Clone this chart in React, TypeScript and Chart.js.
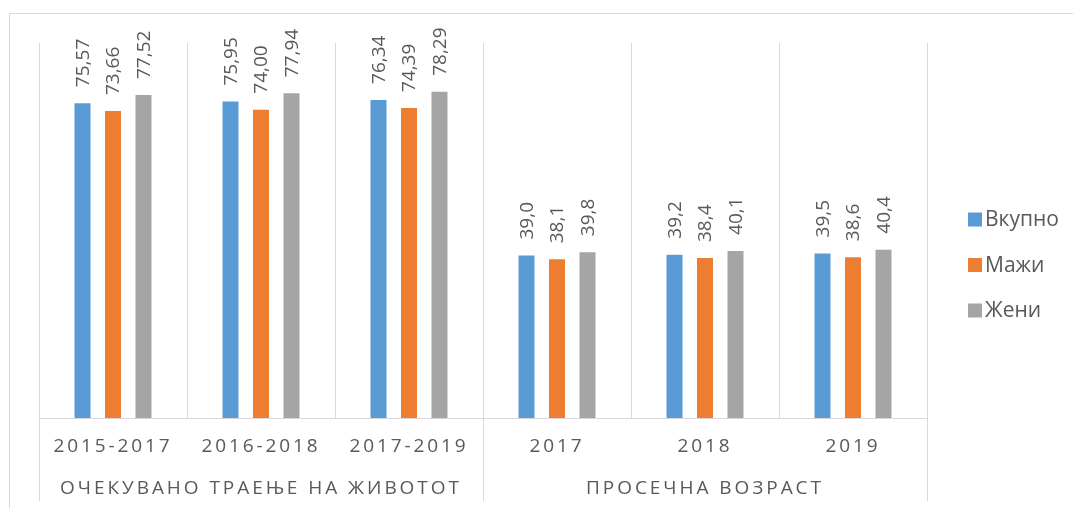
import React, { useEffect, useRef } from 'react';
import { Chart, registerables } from 'chart.js';

Chart.register(...registerables);

const categories = ['2015-2017', '2016-2018', '2017-2019', '2017', '2018', '2019'];
const groupLabels = ['ОЧЕКУВАНО ТРАЕЊЕ НА ЖИВОТОТ', 'ПРОСЕЧНА ВОЗРАСТ'];
const groupSizes = [3, 3];
const seriesNames = ['Вкупно', 'Мажи', 'Жени'];
const vkupno = [75.57, 75.95, 76.34, 39.0, 39.2, 39.5];
const mazhi = [73.66, 74.0, 74.39, 38.1, 38.4, 38.6];
const zheni = [77.52, 77.94, 78.29, 39.8, 40.1, 40.4];
const labelDecimals = [2, 2, 2, 1, 1, 1];
const seriesColors = ['#5B9BD5', '#ED7D31', '#A5A5A5'];
const yMax = 90;

const TEXT = '#595959';
const GRID = '#D9D9D9';
const FONT_FAMILY = '"Open Sans", "DejaVu Sans", sans-serif';
const FONT_SIZE = 19;
const LEGEND_FONT_SIZE = 21;

const align = (p: number) => Math.round(p - 0.5) + 0.5;

function spacedText(ctx: CanvasRenderingContext2D, text: string, cx: number, cy: number, ls: number) {
  const chars = Array.from(text);
  const widths = chars.map((c) => ctx.measureText(c).width);
  const total = widths.reduce((a, b) => a + b, 0) + ls * chars.length;
  let x = cx - total / 2;
  ctx.textAlign = 'left';
  chars.forEach((c, i) => {
    ctx.fillText(c, x, cy);
    x += widths[i] + ls;
  });
}

const decorPlugin = {
  id: 'excelDecor',
  beforeDraw(chart: any) {
    const ctx: CanvasRenderingContext2D = chart.ctx;
    ctx.save();
    ctx.fillStyle = '#ffffff';
    ctx.fillRect(0, 0, chart.width, chart.height);
    ctx.strokeStyle = GRID;
    ctx.lineWidth = 1;
    ctx.strokeRect(9.5, 13.5, chart.width + 20, chart.height + 20);
    ctx.restore();
  },
  afterDatasetsDraw(chart: any) {
    const ctx: CanvasRenderingContext2D = chart.ctx;
    ctx.save();
    ctx.fillStyle = TEXT;
    ctx.font = `${FONT_SIZE}px ${FONT_FAMILY}`;
    chart.data.datasets.forEach((ds: any, i: number) => {
      const meta = chart.getDatasetMeta(i);
      meta.data.forEach((el: any, j: number) => {
        const label = Number(ds.data[j]).toFixed(labelDecimals[j]).replace('.', ',');
        ctx.save();
        ctx.translate(el.x + 1, el.y - 16);
        ctx.rotate(-Math.PI / 2);
        ctx.textAlign = 'left';
        ctx.textBaseline = 'middle';
        ctx.fillText(label, 0, 0);
        ctx.restore();
      });
    });
    ctx.restore();
  },
  afterDraw(chart: any) {
    const ctx: CanvasRenderingContext2D = chart.ctx;
    const xs = chart.scales.x;
    const area = chart.chartArea;
    ctx.save();
    ctx.strokeStyle = GRID;
    ctx.lineWidth = 1;
    const boundaryPx = (b: number) => {
      if (b <= 0) return area.left;
      if (b >= categories.length) return area.right;
      return (xs.getPixelForValue(b - 1) + xs.getPixelForValue(b)) / 2;
    };
    const bounds = [0];
    let acc = 0;
    groupSizes.forEach((s) => {
      acc += s;
      bounds.push(acc);
    });
    bounds.forEach((b) => {
      const x = align(boundaryPx(b));
      ctx.beginPath();
      ctx.moveTo(x, area.bottom);
      ctx.lineTo(x, 501);
      ctx.stroke();
    });
    ctx.fillStyle = TEXT;
    ctx.font = `${FONT_SIZE}px ${FONT_FAMILY}`;
    ctx.textBaseline = 'middle';
    categories.forEach((c, i) => {
      spacedText(ctx, c, xs.getPixelForValue(i), 447, 2.9);
    });
    groupLabels.forEach((g, gi) => {
      const cx = (boundaryPx(bounds[gi]) + boundaryPx(bounds[gi + 1])) / 2;
      spacedText(ctx, g, cx, 489, 2.95);
    });
    ctx.font = `${LEGEND_FONT_SIZE}px ${FONT_FAMILY}`;
    chart.data.datasets.forEach((ds: any, i: number) => {
      const cy = 219.5 + i * 45.5;
      ctx.fillStyle = ds.backgroundColor;
      ctx.fillRect(968, cy - 7, 14, 14);
      ctx.fillStyle = TEXT;
      ctx.textAlign = 'left';
      ctx.textBaseline = 'middle';
      ctx.fillText(ds.label, 985, cy + 1);
    });
    ctx.restore();
  },
};

export default function App() {
  const ref = useRef<HTMLCanvasElement | null>(null);
  useEffect(() => {
    if (!ref.current) return;
    const seriesData = [vkupno, mazhi, zheni];
    const chart = new Chart(ref.current, {
      type: 'bar',
      data: {
        labels: categories,
        datasets: seriesNames.map((name, i) => ({
          label: name,
          data: seriesData[i],
          backgroundColor: seriesColors[i],
          borderWidth: 0,
          categoryPercentage: 0.618,
          barPercentage: 0.525,
        })),
      },
      options: {
        responsive: false,
        animation: false,
        layout: { padding: { left: 39, top: 43, right: 146, bottom: 0 } },
        plugins: { legend: { display: false }, tooltip: { enabled: false } },
        scales: {
          x: {
            grid: { display: true, color: GRID, lineWidth: 1, offset: true, drawTicks: false },
            border: { display: true, color: GRID, width: 1 },
            ticks: { display: false },
            afterFit: (s: any) => {
              s.height = 90;
            },
          },
          y: { display: false, min: 0, max: yMax },
        },
      },
      plugins: [decorPlugin],
    });
    return () => chart.destroy();
  }, []);
  return (
    <div style={{ position: 'fixed', left: 0, top: 0, width: 1073, height: 508, background: '#fff' }}>
      <canvas ref={ref} width={1073} height={508} style={{ width: 1073, height: 508, display: 'block' }} />
    </div>
  );
}
